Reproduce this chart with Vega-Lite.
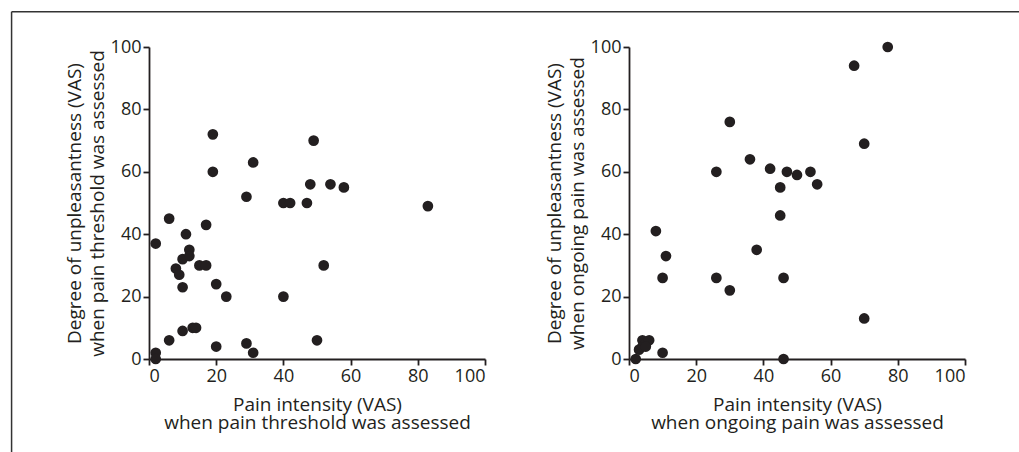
{
  "$schema": "https://vega.github.io/schema/vega-lite/v6.json",
  "background": "white",
  "padding": {"left": 10, "top": 10, "right": 0, "bottom": 0},
  "autosize": {"type": "pad"},
  "bounds": "flush",
  "spacing": 144,
  "datasets": {
    "threshold": [
      {"intensity": 2, "unpleasantness": 37}, {"intensity": 2, "unpleasantness": 2}, {"intensity": 2, "unpleasantness": 0},
      {"intensity": 6, "unpleasantness": 45}, {"intensity": 6, "unpleasantness": 6}, {"intensity": 8, "unpleasantness": 29},
      {"intensity": 9, "unpleasantness": 27}, {"intensity": 10, "unpleasantness": 32}, {"intensity": 10, "unpleasantness": 23},
      {"intensity": 10, "unpleasantness": 9}, {"intensity": 11, "unpleasantness": 40}, {"intensity": 12, "unpleasantness": 35},
      {"intensity": 12, "unpleasantness": 33}, {"intensity": 13, "unpleasantness": 10}, {"intensity": 14, "unpleasantness": 10},
      {"intensity": 15, "unpleasantness": 30}, {"intensity": 17, "unpleasantness": 30}, {"intensity": 17, "unpleasantness": 43},
      {"intensity": 19, "unpleasantness": 72}, {"intensity": 19, "unpleasantness": 60}, {"intensity": 20, "unpleasantness": 24},
      {"intensity": 20, "unpleasantness": 4}, {"intensity": 23, "unpleasantness": 20}, {"intensity": 29, "unpleasantness": 52},
      {"intensity": 29, "unpleasantness": 5}, {"intensity": 31, "unpleasantness": 2}, {"intensity": 31, "unpleasantness": 63},
      {"intensity": 40, "unpleasantness": 50}, {"intensity": 40, "unpleasantness": 20}, {"intensity": 42, "unpleasantness": 50},
      {"intensity": 47, "unpleasantness": 50}, {"intensity": 48, "unpleasantness": 56}, {"intensity": 49, "unpleasantness": 70},
      {"intensity": 54, "unpleasantness": 56}, {"intensity": 58, "unpleasantness": 55}, {"intensity": 52, "unpleasantness": 30},
      {"intensity": 50, "unpleasantness": 6}, {"intensity": 83, "unpleasantness": 49}
    ],
    "ongoing": [
      {"intensity": 2, "unpleasantness": 0}, {"intensity": 3, "unpleasantness": 3}, {"intensity": 4, "unpleasantness": 6},
      {"intensity": 4, "unpleasantness": 4}, {"intensity": 5, "unpleasantness": 5}, {"intensity": 6, "unpleasantness": 6},
      {"intensity": 5, "unpleasantness": 4}, {"intensity": 8, "unpleasantness": 41}, {"intensity": 11, "unpleasantness": 33},
      {"intensity": 10, "unpleasantness": 26}, {"intensity": 10, "unpleasantness": 2}, {"intensity": 26, "unpleasantness": 60},
      {"intensity": 26, "unpleasantness": 26}, {"intensity": 30, "unpleasantness": 76}, {"intensity": 30, "unpleasantness": 22},
      {"intensity": 36, "unpleasantness": 64}, {"intensity": 38, "unpleasantness": 35}, {"intensity": 42, "unpleasantness": 61},
      {"intensity": 45, "unpleasantness": 55}, {"intensity": 45, "unpleasantness": 46}, {"intensity": 47, "unpleasantness": 60},
      {"intensity": 46, "unpleasantness": 26}, {"intensity": 46, "unpleasantness": 0}, {"intensity": 50, "unpleasantness": 59},
      {"intensity": 54, "unpleasantness": 60}, {"intensity": 56, "unpleasantness": 56}, {"intensity": 67, "unpleasantness": 94},
      {"intensity": 77, "unpleasantness": 100}, {"intensity": 70, "unpleasantness": 69}, {"intensity": 70, "unpleasantness": 13}
    ]
  },
  "config": {
    "view": {"stroke": null},
    "font": "Open Sans",
    "axis": {
      "grid": false,
      "domainColor": "#231f20", "domainWidth": 1.8,
      "tickColor": "#231f20", "tickWidth": 1.8, "tickSize": 6,
      "labelFontSize": 18, "labelColor": "#231f20", "labelPadding": 2,
      "titleFontSize": 19, "titleFontWeight": "normal", "titleColor": "#231f20"
    }
  },
  "hconcat": [
    {
      "width": 336,
      "height": 312,
      "layer": [
        {
          "data": {"name": "threshold"},
          "mark": {"type": "point", "filled": true, "size": 115, "color": "#231f20", "opacity": 1},
          "encoding": {
            "x": {"field": "intensity", "type": "quantitative",
                  "scale": {"domain": [0, 100], "nice": false},
                  "axis": {"values": [0, 20, 40, 60, 80, 100], "title": ["Pain intensity (VAS)", "when pain threshold was assessed"], "titleLineHeight": 18.5, "titlePadding": 10}},
            "y": {"field": "unpleasantness", "type": "quantitative",
                  "scale": {"domain": [0, 100], "nice": false},
                  "axis": {"values": [0, 20, 40, 60, 80, 100], "title": ["Degree of unpleasantness (VAS)", "when pain threshold was assessed"], "titleLineHeight": 23, "titlePadding": 3}}
          }
        },
        {
          "data": {"values": [{"frame": "top"}]},
          "mark": {"type": "rule", "color": "#333333", "strokeWidth": 1.5},
          "encoding": {
            "x": {"datum": -40.9, "type": "quantitative"},
            "x2": {"datum": 259.2},
            "y": {"datum": 111.3, "type": "quantitative"}
          }
        },
        {
          "data": {"values": [{"frame": "left"}]},
          "mark": {"type": "rule", "color": "#333333", "strokeWidth": 1.5},
          "encoding": {
            "x": {"datum": -40.9, "type": "quantitative"},
            "y": {"datum": 111.3, "type": "quantitative"},
            "y2": {"datum": -30}
          }
        }
      ]
    },
    {
      "width": 336,
      "height": 312,
      "data": {"name": "ongoing"},
      "mark": {"type": "point", "filled": true, "size": 115, "color": "#231f20", "opacity": 1},
      "encoding": {
        "x": {"field": "intensity", "type": "quantitative",
              "scale": {"domain": [0, 100], "nice": false},
              "axis": {"values": [0, 20, 40, 60, 80, 100], "title": ["Pain intensity (VAS)", "when ongoing pain was assessed"], "titleLineHeight": 18.5, "titlePadding": 10}},
        "y": {"field": "unpleasantness", "type": "quantitative",
              "scale": {"domain": [0, 100], "nice": false},
              "axis": {"values": [0, 20, 40, 60, 80, 100], "title": ["Degree of unpleasantness (VAS)", "when ongoing pain was assessed"], "titleLineHeight": 23, "titlePadding": 3}}
      }
    }
  ]
}
